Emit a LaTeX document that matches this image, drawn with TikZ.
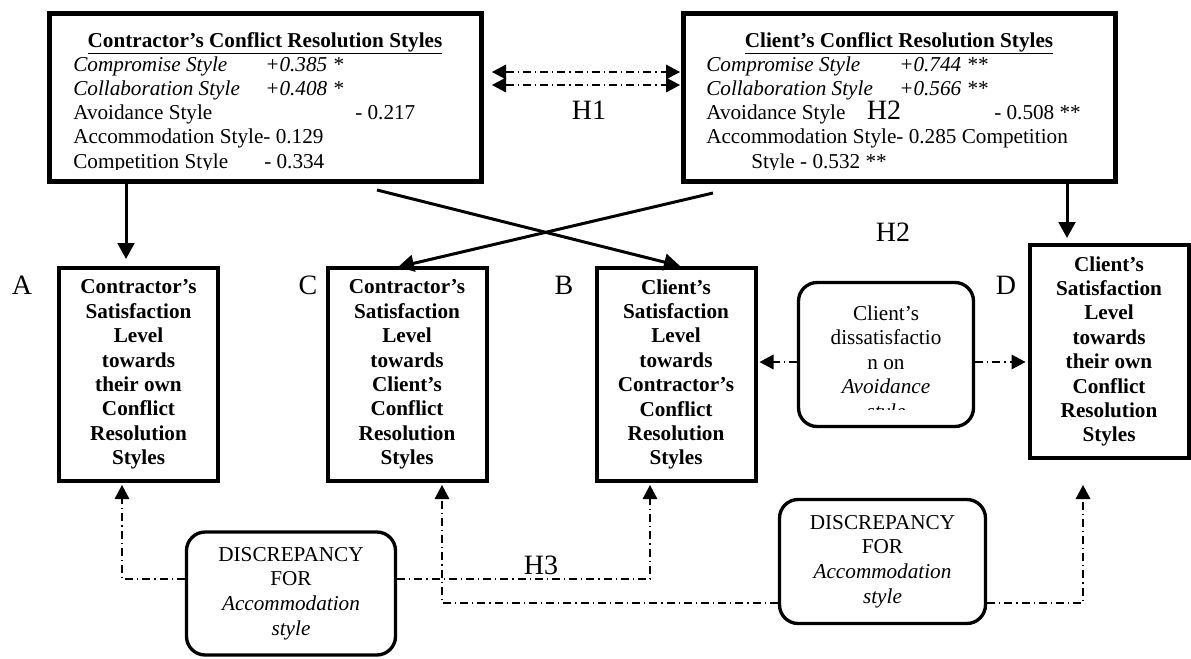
\documentclass[tikz,border=0pt]{standalone}
\usepackage{fontspec}
\setmainfont{Liberation Serif}
\usetikzlibrary{arrows.meta}

\tikzset{
  hdbox/.style={draw, line width=3.75pt, minimum width=324pt, minimum height=126pt, inner sep=0pt},
  satbox/.style={draw, line width=3pt, minimum width=119.25pt, minimum height=159.75pt, inner sep=0pt, align=center, font=\fontsize{15.9}{18.3}\selectfont\bfseries},
  notebox/.style={draw, line width=2.5pt, rounded corners=14pt, inner sep=0pt, align=center},
  rowtxt/.style={anchor=base west, inner sep=0pt},
  hlabel/.style={font=\fontsize{21}{24}\selectfont, inner sep=0pt},
  solidarr/.style={line width=2.25pt, -{Triangle[length=12pt,width=12.5pt]}},
  dotarr/.style={line width=0.9pt, dash pattern=on 6pt off 3pt on 0.9pt off 3pt, >={Triangle[length=10.5pt,width=11pt]}, ->},
}

\begin{document}
\begin{tikzpicture}[x=0.75pt,y=0.75pt,yscale=-1, font=\fontsize{15.9}{18.4}\selectfont]
\useasboundingbox (0,0) rectangle (1191,658);

%Shape: Rectangle (contractor styles)
\node[hdbox] (ctrBox) at (265.5,97.5) {};
%Shape: Rectangle (client styles)
\node[hdbox] (cliBox) at (899.5,97.5) {};

% Text Node
\node[anchor=base, inner sep=0pt] (ctrTitle) at (265,47) {\textbf{\underline{Contractor’s Conflict Resolution Styles}}};
\node[rowtxt] (ctr1) at (73,71) {\textit{Compromise Style}};
\node[rowtxt] (ctr1v) at (265,71) {\textit{+0.385 *}};
\node[rowtxt] (ctr2) at (73,95) {\textit{Collaboration Style}};
\node[rowtxt] (ctr2v) at (265,95) {\textit{+0.408 *}};
\node[rowtxt] (ctr3) at (73,119) {Avoidance Style};
\node[rowtxt] (ctr3v) at (355,119) {- 0.217};
\node[rowtxt] (ctr4) at (73,143) {Accommodation Style- 0.129};
\begin{scope}
\clip (52,150) rectangle (479,169);
\node[rowtxt] (ctr5) at (73,168) {Competition Style};
\node[rowtxt] (ctr5v) at (264,168) {- 0.334};
\end{scope}

% Text Node
\node[anchor=base, inner sep=0pt] (cliTitle) at (899,47) {\textbf{\underline{Client’s Conflict Resolution Styles}}};
\node[rowtxt] (cli1) at (706,71) {\textit{Compromise Style}};
\node[rowtxt] (cli1v) at (899,71) {\textit{+0.744 **}};
\node[rowtxt] (cli2) at (706,95) {\textit{Collaboration Style}};
\node[rowtxt] (cli2v) at (899,95) {\textit{+0.566 **}};
\node[rowtxt] (cli3) at (706,119) {Avoidance Style};
\node[rowtxt] (cli3v) at (994,119) {- 0.508 **};
\node[rowtxt] (cli4) at (706,143) {Accommodation Style- 0.285 Competition};
\begin{scope}
\clip (686,150) rectangle (1113,169);
\node[rowtxt] (cli5) at (751,168) {Style - 0.532 **};
\end{scope}

%Shape: Rectangle (satisfaction boxes)
\node[satbox] (satA) at (138.5,374.5) {Contractor’s\\Satisfaction\\Level\\towards\\their own\\Conflict\\Resolution\\Styles};
\node[satbox] (satC) at (407,374.5) {Contractor’s\\Satisfaction\\Level\\towards\\Client’s\\Conflict\\Resolution\\Styles};
\node[satbox] (satB) at (676,374.5) {Client’s\\Satisfaction\\Level\\towards\\Contractor’s\\Conflict\\Resolution\\Styles};
\node[satbox] (satD) at (1109,351.5) {Client’s\\Satisfaction\\Level\\towards\\their own\\Conflict\\Resolution\\Styles};

% Text Node (letters and hypotheses)
\node[hlabel] (labA) at (22,285) {A};
\node[hlabel] (labC) at (308,285) {C};
\node[hlabel] (labB) at (564,285) {B};
\node[hlabel] (labD) at (1006,285) {D};
\node[hlabel] (labH1) at (589,110) {H1};
\node[hlabel] (labH2a) at (884,110) {H2};
\node[hlabel] (labH2b) at (893,232) {H2};
\node[hlabel] (labH3) at (541,565) {H3};

%Shape: Rounded Rectangle
\node[notebox, minimum width=131.25pt, minimum height=108pt] (avoidNote) at (886,354.5) {};
\begin{scope}
\clip (800,284) rectangle (972,409);
\node[align=center, inner sep=0pt] (avoidTxt) at (886,364) {Client’s\\dissatisfactio\\n on\\\textit{Avoidance}\\\textit{style}};
\end{scope}
\node[notebox, minimum width=156.75pt, minimum height=92.25pt] (accL) at (291,593.5) {DISCREPANCY\\FOR\\\textit{Accommodation}\\\textit{style}};
\node[notebox, minimum width=154.5pt, minimum height=93pt] (accR) at (882.5,561.5) {DISCREPANCY\\FOR\\\textit{Accommodation}\\\textit{style}};

%Straight Lines
\coordinate (tipA) at (126,259);
\coordinate (tipD) at (1067,238);
\coordinate (crsL) at (377,190);
\coordinate (tipB) at (680,266);
\coordinate (crsR) at (713,193);
\coordinate (tipC) at (398,267);
\draw[solidarr] (ctrBox.south -| tipA) -- (tipA);
\draw[solidarr] (cliBox.south -| tipD) -- (tipD);
\draw[solidarr] (crsL) -- (tipB);
\draw[solidarr] (crsR) -- (tipC);

%Dash-dot Lines
\coordinate (h1a) at (492,72);
\coordinate (h1b) at (680,72);
\coordinate (h1c) at (492,85);
\coordinate (h1d) at (680,85);
\draw[dotarr,<->] (h1a) -- (h1b);
\draw[dotarr,<->] (h1c) -- (h1d);

\draw[dotarr, shorten >=1.5pt] (avoidNote.west |- 0,362) -- (satB.east |- 0,362);
\draw[dotarr, shorten >=1.5pt] (avoidNote.east |- 0,362) -- (satD.west |- 0,362);

\coordinate (upA) at (122,485);
\coordinate (upB) at (650,485);
\coordinate (upC) at (442,485);
\coordinate (upD) at (1083,485);
\draw[dotarr] (accL.west |- 0,579) -| (upA);
\draw[dotarr] (accL.east |- 0,579) -| (upB);
\draw[dotarr] (accR.west |- 0,603) -| (upC);
\draw[dotarr] (accR.east |- 0,603) -| (upD);

\end{tikzpicture}
\end{document}
